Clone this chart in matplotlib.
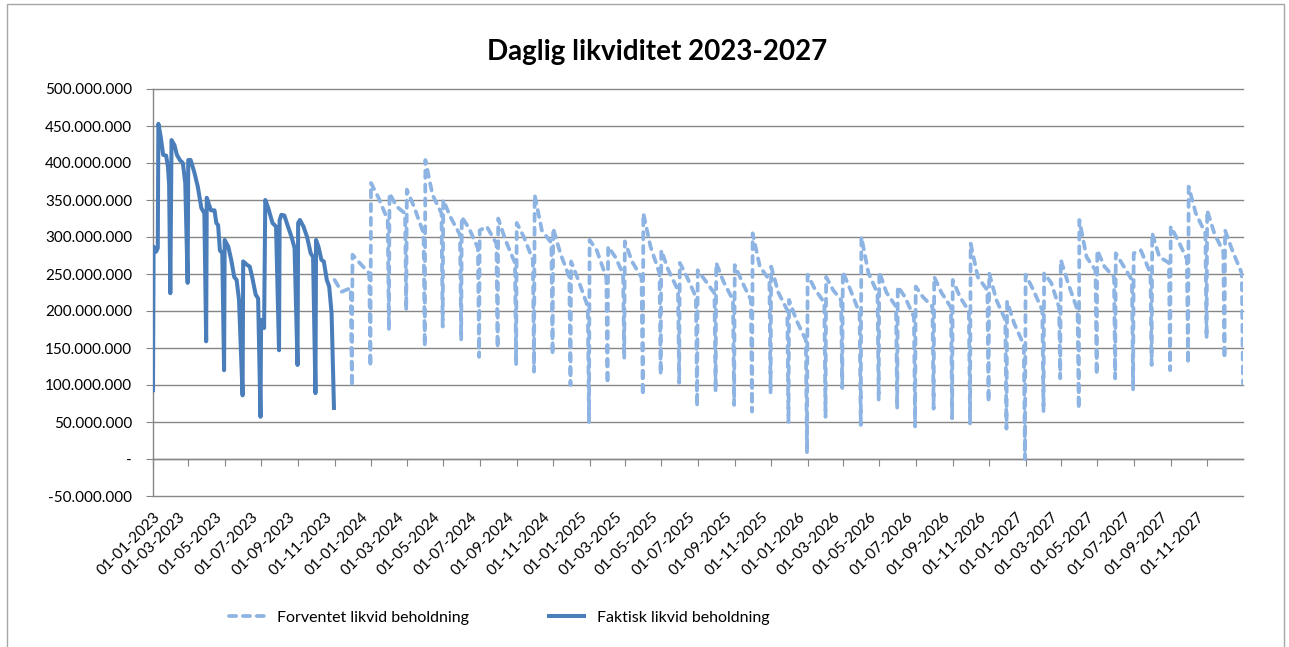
import matplotlib
matplotlib.use('Agg')
import matplotlib.pyplot as plt
import matplotlib.dates as mdates
from matplotlib.ticker import FuncFormatter
from matplotlib.patches import Rectangle
import pandas as pd

plt.rcParams['font.family'] = ['Lato', 'DejaVu Sans']

title = 'Daglig likviditet 2023-2027'
label_forventet = 'Forventet likvid beholdning'
label_faktisk = 'Faktisk likvid beholdning'

# Faktisk likvid beholdning (mio. kr.)
faktisk_dates = [
    '2023-01-01', '2023-01-02', '2023-01-06', '2023-01-09', '2023-01-10', '2023-01-14', '2023-01-18',
    '2023-01-23', '2023-01-26', '2023-01-28', '2023-01-30',
    '2023-02-01', '2023-02-06', '2023-02-10', '2023-02-15', '2023-02-20', '2023-02-24', '2023-02-28',
    '2023-03-01', '2023-03-05', '2023-03-11', '2023-03-17', '2023-03-23', '2023-03-28', '2023-03-31',
    '2023-04-01', '2023-04-08', '2023-04-14', '2023-04-17', '2023-04-20', '2023-04-23', '2023-04-27', '2023-04-30',
    '2023-05-01', '2023-05-07', '2023-05-12', '2023-05-17', '2023-05-21', '2023-05-25', '2023-05-31',
    '2023-06-01', '2023-06-08', '2023-06-12', '2023-06-16', '2023-06-22', '2023-06-26', '2023-06-30',
    '2023-07-01', '2023-07-06', '2023-07-08', '2023-07-13', '2023-07-20', '2023-07-26', '2023-07-31',
    '2023-08-01', '2023-08-04', '2023-08-09', '2023-08-15', '2023-08-21', '2023-08-26', '2023-08-31',
    '2023-09-01', '2023-09-04', '2023-09-10', '2023-09-16', '2023-09-22', '2023-09-26', '2023-09-30',
    '2023-10-01', '2023-10-05', '2023-10-10', '2023-10-14', '2023-10-19', '2023-10-23', '2023-10-27', '2023-10-31',
]
faktisk_mio = [
    93, 287, 280, 285, 453, 435, 411, 410, 395, 370, 224,
    431, 424, 411, 404, 400, 373, 238,
    404, 404, 388, 368, 339, 332, 159,
    353, 336, 336, 319, 316, 282, 278, 120,
    296, 287, 269, 246, 242, 215, 86,
    267, 262, 260, 246, 222, 217, 57,
    188, 177, 350, 339, 319, 314, 147,
    323, 330, 329, 314, 300, 285, 127,
    319, 323, 314, 300, 278, 273, 89,
    296, 287, 269, 267, 242, 233, 197, 69,
]

# Forventet likvid beholdning (mio. kr.), per month: start, midt, slut før fald, laveste
forv_months = pd.date_range('2023-11-01', '2027-12-01', freq='MS')
forv_peak = [242, 276, 373, 359, 364, 404, 350, 327, 309, 325, 319, 357, 312, 267,
             296, 287, 294, 332, 282, 265, 255, 265, 262, 305, 260, 215,
             249, 246, 253, 300, 253, 233, 233, 246, 242, 291, 251, 213,
             249, 251, 269, 323, 282, 278, 278, 305, 314, 368, 336, 309]
forv_mid = [226, 265, 354, 341, 341, 357, 327, 312, 314, 296, 300, 309, 278, 242,
            282, 273, 267, 287, 255, 246, 242, 240, 240, 260, 225, 188,
            230, 228, 230, 251, 225, 219, 219, 225, 219, 246, 215, 183,
            230, 238, 238, 273, 260, 262, 282, 273, 296, 332, 305, 282]
forv_late = [231, 251, 323, 332, 305, 332, 303, 285, 291, 265, 269, 292, 246, 206,
             245, 250, 245, 251, 228, 219, 224, 215, 215, 242, 201, 161,
             211, 215, 197, 224, 206, 192, 206, 205, 200, 228, 188, 154,
             201, 205, 201, 255, 246, 242, 251, 265, 270, 305, 280, 251]
forv_low = [98, 125, 174, 201, 152, 179, 161, 138, 150, 127, 118, 141, 100, 50,
            102, 136, 86, 114, 103, 71, 91, 73, 64, 89, 50, 8,
            57, 96, 46, 80, 68, 44, 68, 55, 48, 77, 41, 0,
            64, 109, 68, 114, 109, 93, 127, 120, 129, 163, 136, 102]

y_ticks = list(range(-50, 501, 50))

# build series
fak_x = pd.to_datetime(faktisk_dates)
fak_y = [v * 1e6 for v in faktisk_mio]
fx, fy = [], []
for m, p, mi, la, lo in zip(forv_months, forv_peak, forv_mid, forv_late, forv_low):
    end = m + pd.offsets.MonthEnd(0)
    fx += [m, m + pd.Timedelta(days=12), end - pd.Timedelta(days=2), end]
    fy += [p * 1e6, mi * 1e6, la * 1e6, lo * 1e6]

W, H = 1289, 647
fig = plt.figure(figsize=(W / 100, H / 100), dpi=100)
ax = fig.add_axes([153 / W, 1 - 496 / H, (1243 - 153) / W, (496 - 89) / H])

grid_c = '#868686'
c_fak = '#4A7EBB'
c_forv = '#8DB4E2'

ax.plot(fx, fy, color=c_forv, lw=2.7, linestyle=(0, (1.9, 1.8)), dash_capstyle='round',
        solid_joinstyle='round', label=label_forventet, zorder=3)
ax.plot(fak_x, fak_y, color=c_fak, lw=2.9, solid_joinstyle='round', label=label_faktisk, zorder=4)

ax.set_xlim(pd.Timestamp('2023-01-01'), pd.Timestamp('2027-12-31'))
ax.set_ylim(-50e6, 500e6)
ax.set_yticks([t * 1e6 for t in y_ticks])


def yfmt(v, pos):
    if abs(v) < 1:
        return '-'
    s = f'{abs(int(round(v))):,}'.replace(',', '.')
    return ('-' if v < 0 else '') + s


ax.yaxis.set_major_formatter(FuncFormatter(yfmt))
for t in y_ticks:
    ax.axhline(t * 1e6, color=grid_c, lw=1.0, zorder=1, clip_on=False)

for s in ['top', 'right']:
    ax.spines[s].set_visible(False)
ax.spines['left'].set_color(grid_c)
ax.spines['left'].set_linewidth(1.0)
ax.spines['bottom'].set_position(('data', 0))
ax.spines['bottom'].set_color(grid_c)
ax.spines['bottom'].set_linewidth(1.0)

ax.xaxis.set_major_locator(mdates.MonthLocator(bymonth=[1, 3, 5, 7, 9, 11]))
ax.tick_params(axis='x', direction='out', length=5, color=grid_c, labelbottom=False)
ax.tick_params(axis='y', direction='out', length=5, color=grid_c, labelsize=11, pad=10)

sec = ax.secondary_xaxis(location=0)
sec.xaxis.set_major_locator(mdates.MonthLocator(bymonth=[1, 3, 5, 7, 9, 11]))
sec.xaxis.set_major_formatter(mdates.DateFormatter('%d-%m-%Y'))
sec.spines['bottom'].set_visible(False)
sec.tick_params(axis='x', length=0, pad=10, labelsize=11)
for lab in sec.get_xticklabels():
    lab.set_rotation(45)
    lab.set_ha('right')
    lab.set_va('top')
    lab.set_rotation_mode('anchor')

fig.text(657 / W, 1 - 52 / H, title, ha='center', va='center', fontsize=20, fontweight='bold')

h, l = ax.get_legend_handles_labels()
fig.legend(h, l, loc='center', bbox_to_anchor=(499 / W, 1 - 618 / H), ncol=2, frameon=False,
           fontsize=11.5, handlelength=2.2, handletextpad=0.8, columnspacing=5.0)

fig.patches.append(Rectangle((7 / W, -0.02), (1284 - 7) / W, 1 - 4 / H + 0.02, transform=fig.transFigure,
                             fill=False, ec='#A6A6A6', lw=1.0))

fig.savefig('out.png', dpi=100)
